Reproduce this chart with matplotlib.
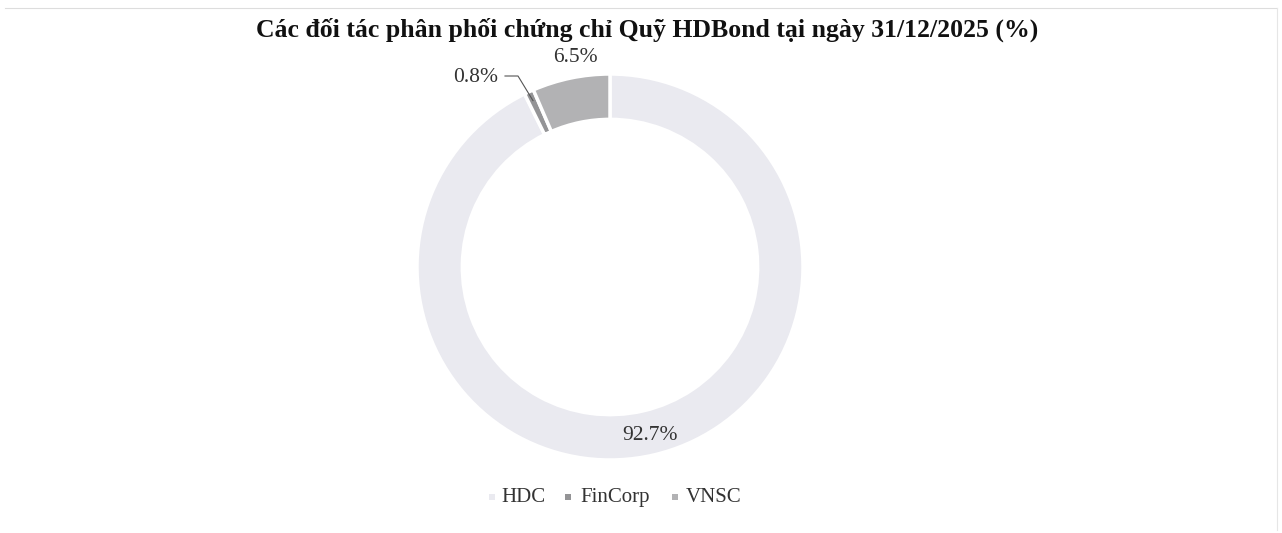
import numpy as np
import matplotlib.pyplot as plt
from matplotlib.patches import Rectangle

categories = ["HDC", "FinCorp", "VNSC"]
values = [92.7, 0.8, 6.5]
labels = ["92.7%", "0.8%", "6.5%"]
colors = ["#eaeaf0", "#949496", "#b2b2b4"]
title = "Các đối tác phân phối chứng chỉ Quỹ HDBond tại ngày 31/12/2025 (%)"

plt.rcParams['font.family'] = ['Liberation Serif', 'DejaVu Serif']

W, H = 1282, 533
fig = plt.figure(figsize=(W / 100, H / 100), dpi=100)
fig.patch.set_facecolor("white")

cx, cy, R = 610, 267, 193

# pie drawn in its own axes sized to the ring
pax = fig.add_axes([(cx - R) / W, 1 - (cy + R) / H, 2 * R / W, 2 * R / H])
wedges, _ = pax.pie(values, colors=colors, startangle=90, counterclock=False,
                    radius=1.0, wedgeprops=dict(width=0.235, edgecolor="white", linewidth=2.5))
pax.set_xlim(-1, 1)
pax.set_ylim(-1, 1)
pax.axis('off')

ax = fig.add_axes([0, 0, 1, 1])
ax.set_xlim(0, W)
ax.set_ylim(H, 0)
ax.patch.set_alpha(0)
ax.axis('off')

def to_pix(theta_deg, r):
    t = np.deg2rad(theta_deg)
    return cx + r * R * np.cos(t), cy - r * R * np.sin(t)

txtkw = dict(fontsize=15.5, color="#333333", ha="center", va="center")
# HDC label inside ring
w = wedges[0]
mid = (w.theta1 + w.theta2) / 2
x, y = to_pix(mid, 0.86)
ax.text(x + 2, y + 7, labels[0], **txtkw)
# VNSC label outside
w = wedges[2]
mid = (w.theta1 + w.theta2) / 2
x, y = to_pix(mid, 1.12)
ax.text(x + 9, y + 2, labels[2], **txtkw)
# FinCorp label with leader
w = wedges[1]
mid = (w.theta1 + w.theta2) / 2
x0, y0 = to_pix(mid, 0.95)
ax.plot([x0, 518, 505], [y0, 76, 76], color="#555555", lw=0.8)
ax.text(476, 78, labels[1], **txtkw)

ax.text(W / 2 + 6, 30, title, fontsize=18.5, fontweight='bold', ha="center", va="center", color="#111111")

# legend
lx = [501, 580, 686]
mx = [492, 568, 675]
for xx, m, c, name in zip(lx, mx, colors, categories):
    ax.add_patch(Rectangle((m - 3, 494), 6, 6, facecolor=c, edgecolor='none'))
    ax.text(xx, 502, name, fontsize=15, color="#333333", ha="left", va="baseline")

# faint frame
ax.plot([5, 1277], [8, 8], color="#dddddd", lw=0.8)
ax.plot([1277, 1277], [8, 530], color="#e6e6e6", lw=0.8)

fig.savefig("out.png", dpi=100, facecolor="white")
